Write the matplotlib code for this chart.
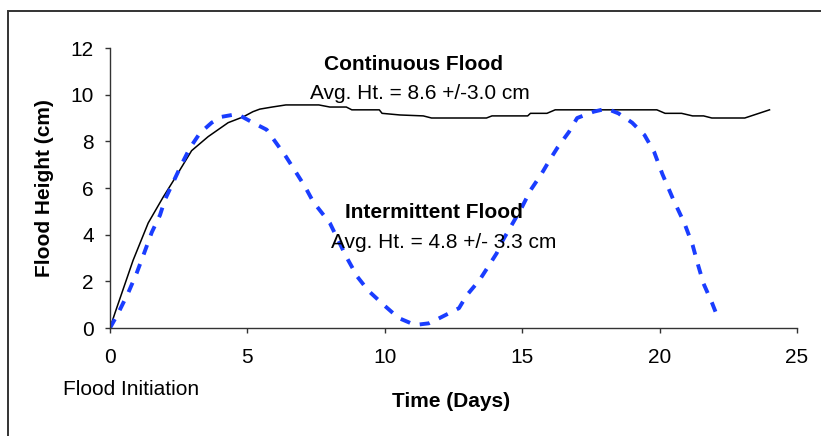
import matplotlib
matplotlib.use("Agg")
import matplotlib.pyplot as plt
from matplotlib.patches import Rectangle

plt.rcParams['font.family'] = ['Liberation Sans', 'DejaVu Sans']

# Continuous flood (days, cm)
cont_x = [0, 0.18, 0.84, 1.39, 1.93, 2.3, 2.97, 3.57, 4.3, 4.85, 5.2, 5.45, 5.9, 6.4,
          7.6, 8.0, 8.6, 8.8, 9.8, 9.9, 10.55, 11.4, 11.7, 13.7, 13.9, 15.2, 15.3,
          15.9, 16.2, 19.9, 20.2, 20.8, 21.2, 21.6, 21.9, 23.1, 24.0]
cont_y = [0, 0.64, 2.9, 4.5, 5.6, 6.3, 7.6, 8.2, 8.8, 9.05, 9.27, 9.38, 9.47, 9.56,
          9.56, 9.47, 9.47, 9.35, 9.35, 9.2, 9.13, 9.09, 9.0, 9.0, 9.09, 9.09, 9.2,
          9.2, 9.35, 9.35, 9.2, 9.2, 9.09, 9.09, 9.0, 9.0, 9.35]

# Intermittent flood (days, cm)
int_x = [0, 0.3, 0.66, 0.97, 1.24, 1.52, 1.82, 2.0, 2.6, 2.9, 3.27, 3.7, 4.06, 4.63,
         5.2, 5.7, 6.4, 6.7, 7.1, 7.4, 8.0, 8.6, 9.0, 9.4, 9.95, 10.5, 11.1, 11.6,
         12.0, 12.7, 12.98, 13.45, 13.8, 14.07, 14.3, 14.66, 15.0, 15.3, 15.7, 16.0,
         16.3, 16.7, 17.0, 17.6, 18.07, 18.5, 19.0, 19.45, 19.8, 20.1, 20.5, 20.9,
         21.2, 21.4, 21.6, 21.9, 22.15]
int_y = [0, 0.64, 1.5, 2.35, 3.2, 4.1, 4.84, 5.5, 7.0, 7.7, 8.35, 8.8, 9.05, 9.17,
         8.8, 8.5, 7.35, 6.8, 6.05, 5.4, 4.5, 3.05, 2.2, 1.6, 1.0, 0.43, 0.13, 0.2,
         0.43, 0.85, 1.4, 2.06, 2.7, 3.2, 3.77, 4.5, 5.2, 5.9, 6.6, 7.2, 7.76, 8.4,
         9.0, 9.27, 9.4, 9.2, 8.8, 8.27, 7.55, 6.6, 5.5, 4.5, 3.56, 2.7, 1.9, 1.1, 0.35]

x_ticks = [0, 5, 10, 15, 20, 25]
y_ticks = [0, 2, 4, 6, 8, 10, 12]

W, H = 821, 436
fig = plt.figure(figsize=(W / 100, H / 100), dpi=100)
ax = fig.add_axes([110 / W, 1 - 328 / H, (797 - 110) / W, (328 - 48) / H])

ax.plot(cont_x, cont_y, color='black', lw=1.1, solid_joinstyle='round')
ax.plot(int_x, int_y, color='#1a3dff', lw=2.8, dashes=(2.6, 2.6))

ax.set_xlim(0, 25)
ax.set_ylim(0, 12)
ax.set_xticks(x_ticks)
ax.set_yticks(y_ticks)
for s in ['top', 'right']:
    ax.spines[s].set_visible(False)
for s in ['left', 'bottom']:
    ax.spines[s].set_color('#333333')
    ax.spines[s].set_linewidth(1.0)
ax.tick_params(axis='both', direction='out', length=3.6, width=1.0, colors='#333333',
               labelsize=15, labelcolor='black')
ax.tick_params(axis='x', pad=11)
ax.tick_params(axis='y', pad=8)

ax.text(11.05, 11.06, 'Continuous Flood', fontsize=15, fontweight='bold', ha='center', va='baseline')
ax.text(11.27, 9.82, 'Avg. Ht. = 8.6 +/-3.0 cm', fontsize=15, ha='center', va='baseline')
ax.text(11.8, 4.71, 'Intermittent Flood', fontsize=15, fontweight='bold', ha='center', va='baseline')
ax.text(12.15, 3.43, 'Avg. Ht. = 4.8 +/- 3.3 cm', fontsize=15, ha='center', va='baseline')

fig.text(131 / W, 1 - 395 / H, 'Flood Initiation', fontsize=15, ha='center', va='baseline')
fig.text(451 / W, 1 - 407 / H, 'Time (Days)', fontsize=15, fontweight='bold', ha='center', va='baseline')
fig.text(44 / W, 1 - 188 / H, 'Flood Height (cm)', fontsize=15, fontweight='bold',
         rotation=90, ha='center', va='center')

fig.patches.append(Rectangle((7.5 / W, -0.05), 1.1, 1 - 10.5 / H + 0.05, transform=fig.transFigure,
                             fill=False, edgecolor='#333333', lw=1.4))

fig.savefig('out.png', dpi=100)
